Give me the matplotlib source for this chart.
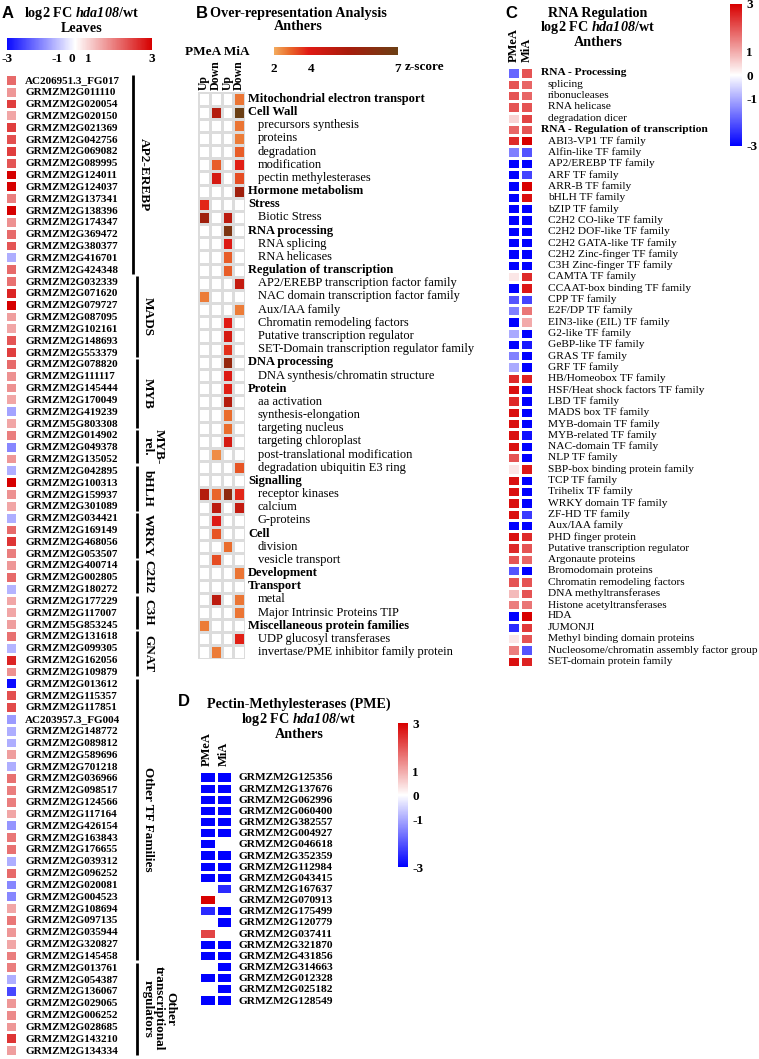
import numpy as np
import matplotlib.pyplot as plt
from matplotlib.colors import LinearSegmentedColormap, FuncNorm, Normalize
from matplotlib.transforms import blended_transform_factory
import matplotlib.cm as cm

plt.rcParams['font.family'] = ['Liberation Serif', 'DejaVu Serif']
plt.rcParams['axes.unicode_minus'] = False
plt.rcParams['mathtext.fontset'] = 'custom'
plt.rcParams['mathtext.it'] = 'Liberation Serif:italic:bold'
plt.rcParams['mathtext.rm'] = 'Liberation Serif:italic:bold'

# ---------------- data ----------------
# Panel A: log2 FC hda108/wt in leaves, TF genes grouped by family
a_groups = ["AP2-EREBP", "MADS", "MYB", "MYB-\nrel.", "bHLH", "WRKY", "C2H2", "C3H", "GNAT",
            "Other TF Families", "Other\ntranscriptional\nregulators"]
a_group_sizes = [17, 7, 6, 3, 4, 4, 3, 3, 4, 24, 8]
a_genes = [
    "AC206951.3_FG017", "GRMZM2G011110", "GRMZM2G020054", "GRMZM2G020150", "GRMZM2G021369",
    "GRMZM2G042756", "GRMZM2G069082", "GRMZM2G089995", "GRMZM2G124011", "GRMZM2G124037",
    "GRMZM2G137341", "GRMZM2G138396", "GRMZM2G174347", "GRMZM2G369472", "GRMZM2G380377",
    "GRMZM2G416701", "GRMZM2G424348",
    "GRMZM2G032339", "GRMZM2G071620", "GRMZM2G079727", "GRMZM2G087095", "GRMZM2G102161",
    "GRMZM2G148693", "GRMZM2G553379",
    "GRMZM2G078820", "GRMZM2G111117", "GRMZM2G145444", "GRMZM2G170049", "GRMZM2G419239",
    "GRMZM5G803308",
    "GRMZM2G014902", "GRMZM2G049378", "GRMZM2G135052",
    "GRMZM2G042895", "GRMZM2G100313", "GRMZM2G159937", "GRMZM2G301089",
    "GRMZM2G034421", "GRMZM2G169149", "GRMZM2G468056", "GRMZM2G053507",
    "GRMZM2G400714", "GRMZM2G002805", "GRMZM2G180272",
    "GRMZM2G177229", "GRMZM2G117007", "GRMZM5G853245",
    "GRMZM2G131618", "GRMZM2G099305", "GRMZM2G162056", "GRMZM2G109879",
    "GRMZM2G013612", "GRMZM2G115357", "GRMZM2G117851", "AC203957.3_FG004", "GRMZM2G148772",
    "GRMZM2G089812", "GRMZM2G589696", "GRMZM2G701218", "GRMZM2G036966", "GRMZM2G098517",
    "GRMZM2G124566", "GRMZM2G117164", "GRMZM2G426154", "GRMZM2G163843", "GRMZM2G176655",
    "GRMZM2G039312", "GRMZM2G096252", "GRMZM2G020081", "GRMZM2G004523", "GRMZM2G108694",
    "GRMZM2G097135", "GRMZM2G035944", "GRMZM2G320827", "GRMZM2G145458",
    "GRMZM2G013761", "GRMZM2G054387", "GRMZM2G136067", "GRMZM2G029065", "GRMZM2G006252",
    "GRMZM2G028685", "GRMZM2G143210", "GRMZM2G134334"]
a_fc = [
    2.0, 1.57, 2.4, 1.43, 2.4, 2.25, 2.4, 2.2, 3.0, 3.0, 1.8, 3.0, 1.63, 2.0, 2.2, -1.17, 2.0,
    1.93, 2.65, 3.0, 1.5, 1.43, 2.2, 2.4,
    2.0, 1.63, 1.63, 1.43, -1.3, 1.43,
    1.8, -1.6, 1.57,
    -1.17, 3.0, 1.63, 1.43,
    -1.17, 2.0, 2.5, 1.8,
    1.57, 2.0, -1.1,
    1.43, 1.43, 1.5,
    1.93, -1.1, 2.65, 1.63,
    -3.0, 2.25, 2.3, -1.38, -1.17, -1.17, 1.5, -1.17, 1.93, 1.8, 1.8, 1.43, -1.45, 1.87, 1.93,
    -1.17, 2.0, -1.6, -1.6, 1.43, 1.87, 1.57, 1.43, 1.8,
    1.8, -1.17, -2.3, 1.57, 1.7, 1.57, 2.5, 1.5]
a_ticks = [-3, -1, 0, 1, 3]

# Panel B: over-representation z-scores (PMeA Up, PMeA Down, MiA Up, MiA Down)
b_cols = ["Up", "Down", "Up", "Down"]
b_terms = [
    ("Mitochondrial electron transport", 0), ("Cell Wall", 0), ("precursors synthesis", 1),
    ("proteins", 1), ("degradation", 1), ("modification", 1), ("pectin methylesterases", 1),
    ("Hormone metabolism", 0), ("Stress", 0), ("Biotic Stress", 1), ("RNA processing", 0),
    ("RNA splicing", 1), ("RNA helicases", 1), ("Regulation of transcription", 0),
    ("AP2/EREBP transcription factor family", 1), ("NAC domain transcription factor family", 1),
    ("Aux/IAA family", 1), ("Chromatin remodeling factors", 1), ("Putative transcription regulator", 1),
    ("SET-Domain transcription regulator family", 1), ("DNA processing", 0),
    ("DNA synthesis/chromatin structure", 1), ("Protein", 0), ("aa activation", 1),
    ("synthesis-elongation", 1), ("targeting nucleus", 1), ("targeting chloroplast", 1),
    ("post-translational modification", 1), ("degradation ubiquitin E3 ring", 1),
    ("Signalling", 0), ("receptor kinases", 1), ("calcium", 1), ("G-proteins", 1), ("Cell", 0),
    ("division", 1), ("vesicle transport", 1), ("Development", 0), ("Transport", 0), ("metal", 1),
    ("Major Intrinsic Proteins TIP", 1), ("Miscellaneous protein families", 0),
    ("UDP glucosyl transferases", 1), ("invertase/PME inhibitor family protein", 1)]
n = np.nan
b_z = [
    [n, n, n, 2.7], [n, 5.0, n, 7.0], [n, n, n, 2.7], [n, n, n, 2.6], [n, n, n, 3.0],
    [n, 3.0, n, 3.8], [n, 4.2, n, 3.2], [n, n, n, 5.5], [3.7, n, n, n], [5.5, n, 4.8, n],
    [n, n, 6.5, n], [n, n, 4.0, n], [n, n, 3.0, n], [n, n, 3.0, n], [n, n, n, 4.6],
    [2.6, n, n, n], [n, n, n, 2.6], [n, n, 3.9, n], [n, n, 4.2, n], [n, n, 3.6, n],
    [n, n, 5.8, n], [n, n, 4.0, n], [n, n, 3.8, n], [n, n, 5.0, n], [n, n, 2.8, n],
    [n, n, 2.8, n], [n, n, 4.2, n], [n, 2.4, n, n], [n, n, n, 3.1], [n, n, n, n],
    [5.0, 2.9, 6.0, 3.7], [n, 4.8, n, 4.6], [n, 4.0, n, n], [n, 3.1, n, n], [n, n, 2.8, n],
    [n, 3.2, n, n], [n, n, n, 2.7], [n, n, n, n], [n, 4.8, n, 2.7], [n, n, n, 2.7],
    [2.6, n, n, n], [n, n, n, 3.8], [n, 2.6, n, n]]
b_ticks = [2, 4, 7]

# Panel C: RNA regulation, log2 FC in anthers (PMeA, MiA)
c_cols = ["PMeA", "MiA"]
c_terms = [
    ("RNA - Processing", 0), ("splicing", 1), ("ribonucleases", 1), ("RNA helicase", 1),
    ("degradation dicer", 1), ("RNA - Regulation of transcription", 0), ("ABI3-VP1 TF family", 1),
    ("Alfin-like TF family", 1), ("AP2/EREBP TF family", 1), ("ARF TF family", 1),
    ("ARR-B TF family", 1), ("bHLH TF family", 1), ("bZIP TF family", 1),
    ("C2H2 CO-like TF family", 1), ("C2H2 DOF-like TF family", 1), ("C2H2 GATA-like TF family", 1),
    ("C2H2 Zinc-finger TF family", 1), ("C3H Zinc-finger TF family", 1), ("CAMTA TF family", 1),
    ("CCAAT-box binding TF family", 1), ("CPP TF family", 1), ("E2F/DP TF family", 1),
    ("EIN3-like (EIL) TF family", 1), ("G2-like TF family", 1), ("GeBP-like TF family", 1),
    ("GRAS TF family", 1), ("GRF TF family", 1), ("HB/Homeobox TF family", 1),
    ("HSF/Heat shock factors TF family", 1), ("LBD TF family", 1), ("MADS box TF family", 1),
    ("MYB-domain TF family", 1), ("MYB-related TF family", 1), ("NAC-domain TF family", 1),
    ("NLP TF family", 1), ("SBP-box binding protein family", 1), ("TCP TF family", 1),
    ("Trihelix TF family", 1), ("WRKY domain TF family", 1), ("ZF-HD TF family", 1),
    ("Aux/IAA family", 1), ("PHD finger protein", 1), ("Putative transcription regulator", 1),
    ("Argonaute proteins", 1), ("Bromodomain proteins", 1), ("Chromatin remodeling factors", 1),
    ("DNA methyltransferases", 1), ("Histone acetyltransferases", 1), ("HDA", 1), ("JUMONJI", 1),
    ("Methyl binding domain proteins", 1), ("Nucleosome/chromatin assembly factor group", 1),
    ("SET-domain protein family", 1)]
c_pmea = [-1.8, 2.0, 2.0, 2.0, 0.5, 1.8, 2.5, -1.5, -3, -3, -3, -3, -3, -3, -3, -3, -3, -3,
          0.3, -3, -2, -1.5, -3, -1, -3, -1.5, -1, 2.5, 2.8, 2.5, 2.8, 2.8, 2.8, 2.8, 2.0, 0.3,
          2.8, 2.8, 2.8, 2.8, -3, 2.8, 2.5, 2.0, -2, 2.0, 0.8, 1.5, -3, -2.5, 0.3, 1.5, 2.8]
c_mia = [2.0, 1.8, 1.8, 2.0, 2.2, 2.0, 3.0, -2.0, -3, -2.2, 3.0, 2.8, -3, -3, -3, -3, -3, -3,
         2.5, 2.7, -2.2, 1.6, 1.0, -3, -2.7, -3, -3, 2.6, -3, -3, -3, -3, -2.8, -3, -3, 2.7,
         -3, -3, -3, -2.3, -3, 2.5, 2.0, 1.8, -3, 2.0, 2.0, 1.6, 3.0, 2.3, 2.0, -2.0, 2.6]
c_ticks = [3, 1, 0, -1, -3]

# Panel D: pectin methylesterases, log2 FC in anthers (PMeA, MiA)
d_genes = ["GRMZM2G125356", "GRMZM2G137676", "GRMZM2G062996", "GRMZM2G060400", "GRMZM2G382557",
           "GRMZM2G004927", "GRMZM2G046618", "GRMZM2G352359", "GRMZM2G112984", "GRMZM2G043415",
           "GRMZM2G167637", "GRMZM2G070913", "GRMZM2G175499", "GRMZM2G120779", "GRMZM2G037411",
           "GRMZM2G321870", "GRMZM2G431856", "GRMZM2G314663", "GRMZM2G012328", "GRMZM2G025182",
           "GRMZM2G128549"]
d_pmea = [-3, -3, -3, -3, -3, -3, -3, -3, -3, -3, n, 3.0, -2.5, n, 2.2, -3, -3, n, -3, n, -3]
d_mia = [-3, -3, -3, -3, -3, -3, n, -3, -3, -3, -2.5, n, -3, -3, n, -3, -3, -3, -3, -3, -3]

# ---------------- figure ----------------
W, H = 759, 1059
fig = plt.figure(figsize=(W / 100, H / 100), dpi=100)


def box(x0, y0, x1, y1):
    return fig.add_axes([x0 / W, 1 - y1 / H, (x1 - x0) / W, (y1 - y0) / H])


def ftext(x, y, s, **kw):
    fig.text(x / W, 1 - y / H, s, **kw)


def heat(ax, data, cmap, norm, edge):
    data = np.array(data, dtype=float)
    ax.pcolormesh(data, cmap=cmap, norm=norm, edgecolors=edge, linewidth=1)
    ax.set_xlim(0, data.shape[1])
    ax.set_ylim(data.shape[0], 0)
    for s in ax.spines.values():
        s.set_visible(False)
    ax.set_xticks([])
    ax.set_yticks([])
    ax.tick_params(length=0)


def bold_ticks(labels):
    for t in labels:
        t.set_fontweight('bold')


def row_labels(ax, terms, x_head, x_sub, size):
    tr = blended_transform_factory(fig.transFigure, ax.transData)
    for i, (lab, lev) in enumerate(terms):
        ax.text((x_head if lev == 0 else x_sub) / W, i + 0.5, lab, transform=tr,
                ha='left', va='center', fontsize=size,
                fontweight='bold' if lev == 0 else 'normal')


title_kw = dict(ha='center', va='center', fontsize=10.2, fontweight='bold')
letter_kw = dict(ha='left', va='center', fontsize=12, fontweight='bold', family='Liberation Sans')
fc_title = "log2 FC $hda108$/wt"

# ----- panel A -----
cmap_a = LinearSegmentedColormap.from_list('a', [(0, '#0a0aff'), (0.47, '#ffffff'), (1, '#d60000')])
cmap_a = cmap_a.with_extremes(bad='white')
pos_a = [0, 0.345, 0.45, 0.56, 1]
norm_a = FuncNorm((lambda v: np.interp(v, [-3, -1, 0, 1, 3], pos_a),
                   lambda p: np.interp(p, pos_a, [-3, -1, 0, 1, 3])), vmin=-3, vmax=3)

ftext(2, 13, "A", **letter_kw)
ftext(82, 13, fc_title, **title_kw)
ftext(82, 28, "Leaves", **title_kw)

cax = box(7, 38, 152, 50)
cb = fig.colorbar(cm.ScalarMappable(norm_a, cmap_a), cax=cax, orientation='horizontal', ticks=a_ticks)
cb.outline.set_visible(False)
cax.tick_params(length=0, labelsize=9.5, pad=2)
bold_ticks(cax.get_xticklabels())

ax_a = box(5, 74, 17, 1056)
heat(ax_a, np.array(a_fc)[:, None], cmap_a, norm_a, 'white')
ax_a.yaxis.tick_right()
ax_a.set_yticks(np.arange(len(a_genes)) + 0.5)
ax_a.set_yticklabels(a_genes, fontsize=8, fontweight='bold')
ax_a.tick_params(axis='y', length=0, pad=6)

tr_a = blended_transform_factory(fig.transFigure, ax_a.transData)
start = 0
for k, (g, size) in enumerate(zip(a_groups, a_group_sizes)):
    lx = 133 if k == 0 else 137
    ax_a.plot([lx / W, lx / W], [start + 0.1, start + size - 0.1], transform=tr_a,
              color='black', lw=2, clip_on=False, solid_capstyle='butt')
    ax_a.text((lx + 5) / W, start + size / 2, g, transform=tr_a, rotation=270,
              ha='left', va='center', fontsize=9.5, fontweight='bold', linespacing=0.9,
              multialignment='center')
    start += size

# ----- panel B -----
cmap_b = LinearSegmentedColormap.from_list(
    'b', [(0, '#f3ab5e'), (0.12, '#ea6c2c'), (0.28, '#e01a14'), (0.6, '#a81c0c'), (1, '#6b3f14')])
cmap_b = cmap_b.with_extremes(bad='white')
pos_b = [0, 0.3, 1]
norm_b = FuncNorm((lambda v: np.interp(v, b_ticks, pos_b),
                   lambda p: np.interp(p, pos_b, b_ticks)), vmin=2, vmax=7)

ftext(196, 13, "B", **letter_kw)
ftext(298, 13, "Over-representation Analysis", **title_kw)
ftext(298, 27, "Anthers", **title_kw)
ftext(250, 52, "PMeA MiA", ha='right', va='center', fontsize=9.5, fontweight='bold')

cbx = box(274, 47, 398, 55)
cb = fig.colorbar(cm.ScalarMappable(norm_b, cmap_b), cax=cbx, orientation='horizontal', ticks=b_ticks)
cb.outline.set_visible(False)
cbx.tick_params(length=0, labelsize=9.5, pad=6)
bold_ticks(cbx.get_xticklabels())
ftext(405, 67, "z-score", ha='left', va='center', fontsize=9.5, fontweight='bold')

ax_b = box(198, 92.4, 245, 658.6)
heat(ax_b, b_z, cmap_b, norm_b, '#dcdcdc')
ax_b.xaxis.tick_top()
ax_b.set_xticks(np.arange(len(b_cols)) + 0.5)
ax_b.set_xticklabels(b_cols, rotation=90, fontsize=8.5, fontweight='bold')
ax_b.tick_params(axis='x', length=0, pad=2)
row_labels(ax_b, b_terms, 248, 258, 9)

# ----- panel C -----
cmap_c = LinearSegmentedColormap.from_list('c', ['#0000ff', '#ffffff', '#d80000'])
cmap_c = cmap_c.with_extremes(bad='white')
norm_c = Normalize(-3, 3)

ftext(505, 13, "C", **letter_kw)
ftext(598, 13, "RNA Regulation", **title_kw)
ftext(598, 27, fc_title, **title_kw)
ftext(598, 42, "Anthers", **title_kw)

ccx = box(730, 4, 742, 146)
cb = fig.colorbar(cm.ScalarMappable(norm_c, cmap_c), cax=ccx, ticks=c_ticks)
cb.outline.set_visible(False)
ccx.tick_params(length=0, labelsize=9.5, pad=3)
bold_ticks(ccx.get_yticklabels())

ax_c = box(507, 67.3, 533, 666.9)
heat(ax_c, np.column_stack([c_pmea, c_mia]), cmap_c, norm_c, 'white')
ax_c.xaxis.tick_top()
ax_c.set_xticks(np.arange(len(c_cols)) + 0.5)
ax_c.set_xticklabels(c_cols, rotation=90, fontsize=9, fontweight='bold')
ax_c.tick_params(axis='x', length=0, pad=4)
row_labels(ax_c, c_terms, 541, 548, 8.2)

# ----- panel D -----
ftext(178, 702, "D", **letter_kw)
ftext(299, 704, "Pectin-Methylesterases (PME)", **title_kw)
ftext(299, 719, fc_title, **title_kw)
ftext(299, 734, "Anthers", **title_kw)

cdx = box(398, 723, 408, 867)
cb = fig.colorbar(cm.ScalarMappable(norm_c, cmap_c), cax=cdx, ticks=c_ticks)
cb.outline.set_visible(False)
cdx.tick_params(length=0, labelsize=9.5, pad=3)
bold_ticks(cdx.get_yticklabels())

ax_d = box(199, 771.4, 232, 1005.6)
heat(ax_d, np.column_stack([d_pmea, d_mia]), cmap_c, norm_c, 'white')
ax_d.xaxis.tick_top()
ax_d.set_xticks([0.5, 1.5])
ax_d.set_xticklabels(c_cols, rotation=90, fontsize=9, fontweight='bold')
ax_d.tick_params(axis='x', length=0, pad=4)
ax_d.yaxis.tick_right()
ax_d.set_yticks(np.arange(len(d_genes)) + 0.5)
ax_d.set_yticklabels(d_genes, fontsize=8.2, fontweight='bold')
ax_d.tick_params(axis='y', length=0, pad=5)

fig.savefig("out.png", dpi=100)
